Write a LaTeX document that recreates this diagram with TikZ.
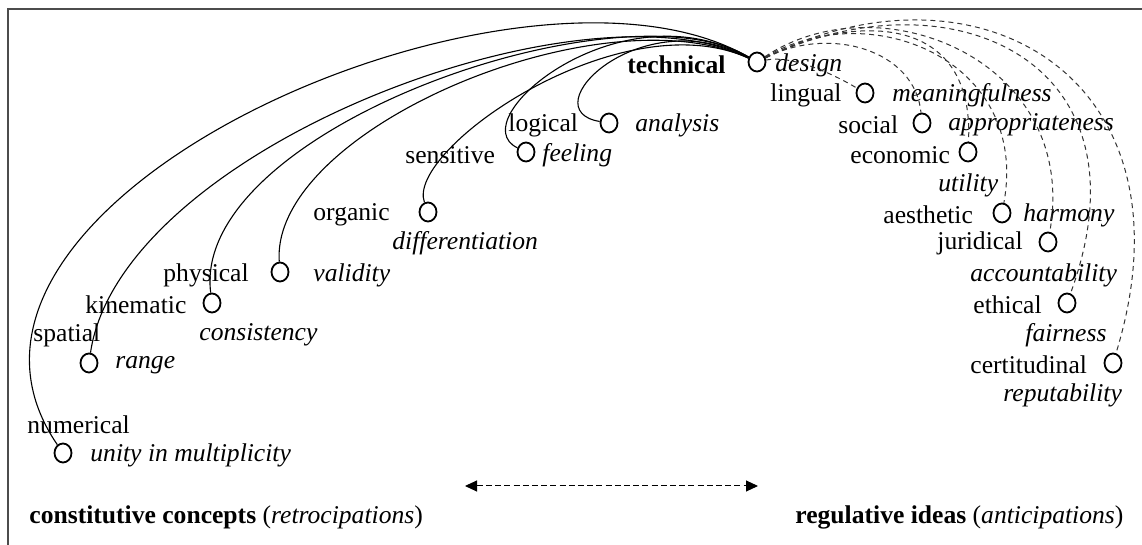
\documentclass[tikz,border=0pt]{standalone}
\usepackage{fontspec}
\setmainfont{Liberation Serif}
\usetikzlibrary{arrows.meta,shapes.geometric}

\begin{document}
\begin{tikzpicture}[x=0.5pt,y=-0.5pt,
  ring/.style={ellipse,draw,line width=0.9pt,minimum width=8.5pt,minimum height=9.5pt,inner sep=0pt},
  lbl/.style={inner sep=0pt,anchor=west,font=\fontsize{12.8}{15}\selectfont},
  lblit/.style={lbl,font=\fontsize{12.8}{15}\selectfont\itshape},
  retro/.style={line width=0.55pt},
  antic/.style={line width=0.5pt,black!80,dash pattern=on 2.5pt off 2pt}]
\useasboundingbox (0,0) rectangle (1142,545);
\draw[line width=0.8pt,black!70] (8,545) -- (8,9) -- (1142,9);

\foreach \name/\x/\y in {design/757/62,meaning/865/93,analysis/609/123,approp/922/123,
  feeling/526/152,utility/968/152,diff/428/212,harmony/1002/213,account/1048/242,
  validity/280/272,consist/212/303,fairness/1067/303,range/89/363,reput/1113/363,unity/63/453}
  \node[ring] (\name) at (\x,\y) {};

% aspects
\node[lbl,font=\fontsize{12.8}{15}\selectfont\bfseries] (technical) at (627,65) {technical};
\node[lbl] (lingual) at (770,95) {lingual};
\node[lbl] (logical) at (508,125) {logical};
\node[lbl] (social) at (838,125) {social};
\node[lbl] (sensitive) at (405,155) {sensitive};
\node[lbl] (economic) at (850,155) {economic};
\node[lbl] (organic) at (313,215) {organic};
\node[lbl] (aesthetic) at (883,215) {aesthetic};
\node[lbl] (juridical) at (937,243) {juridical};
\node[lbl] (physical) at (163,275) {physical};
\node[lbl] (kinematic) at (85,305) {kinematic};
\node[lbl] (ethical) at (973,305) {ethical};
\node[lbl] (spatial) at (33,335) {spatial};
\node[lbl] (certitudinal) at (970,365) {certitudinal};
\node[lbl] (numerical) at (27,425) {numerical};

% meanings
\node[lblit] (designL) at (775,65) {design};
\node[lblit] (meaningL) at (892,95) {meaningfulness};
\node[lblit] (analysisL) at (635,125) {analysis};
\node[lblit] (appropL) at (948,125) {appropriateness};
\node[lblit] (feelingL) at (542,155) {feeling};
\node[lblit] (utilityL) at (938,185) {utility};
\node[lblit] (harmonyL) at (1023,215) {harmony};
\node[lblit] (diffL) at (392,243) {differentiation};
\node[lblit] (validityL) at (313,275) {validity};
\node[lblit] (accountL) at (970,275) {accountability};
\node[lblit] (consistL) at (199,335) {consistency};
\node[lblit] (fairnessL) at (1025,335) {fairness};
\node[lblit] (rangeL) at (115,365) {range};
\node[lblit] (reputL) at (1003,395) {reputability};
\node[lblit] (unityL) at (90,455) {unity in multiplicity};

\node[lbl] (constitutive) at (29,517) {\textbf{constitutive concepts} (\textit{retrocipations})};
\node[lbl] (regulative) at (795,517) {\textbf{regulative ideas} (\textit{anticipations})};

% retrocipations
\draw[retro] (design) .. controls (640,0) and (530,110) .. (analysis);
\draw[retro] (design) .. controls (620,-15) and (460,120) .. (feeling);
\draw[retro] (design) .. controls (620,0) and (405,150) .. (diff);
\draw[retro] (design) .. controls (600,-10) and (270,130) .. (validity);
\draw[retro] (design) .. controls (620,-20) and (190,130) .. (consist);
\draw[retro] (design) .. controls (580,-25) and (120,150) .. (range);
\draw[retro] (design) .. controls (520,-75) and (-110,200) .. (unity);

% anticipations
\draw[antic] (design) .. controls (790,55) and (830,72) .. (meaning);
\draw[antic] (design) .. controls (830,25) and (915,50) .. (approp);
\draw[antic] (design) .. controls (850,15) and (975,10) .. (utility);
\draw[antic] (design) .. controls (870,-5) and (1030,60) .. (harmony);
\draw[antic] (design) .. controls (880,-20) and (1080,60) .. (account);
\draw[antic] (design) .. controls (950,-30) and (1156,60) .. (fairness);
\draw[antic] (design) .. controls (980,-50) and (1200,80) .. (reput);

\coordinate (arrL) at (465,486);
\coordinate (arrR) at (758,486);
\draw[line width=0.5pt,dash pattern=on 3pt off 1.6pt,
  {Triangle[length=6pt,width=5.5pt]}-{Triangle[length=6pt,width=5.5pt]}] (arrL) -- (arrR);
\end{tikzpicture}
\end{document}
